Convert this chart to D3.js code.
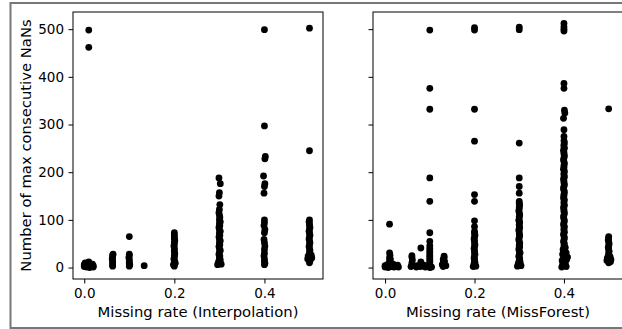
<!DOCTYPE html>
<html>
<head>
<meta charset="utf-8">
<script src="https://cdn.jsdelivr.net/npm/d3@7"></script>
<style>
  html, body { margin: 0; padding: 0; background: #fff; }
  svg { display: block; font-family: 'DejaVu Sans', sans-serif; }
  .tick text { font-family: 'DejaVu Sans', sans-serif; font-size: 13.5px; fill: #000; }
  .tick line { stroke: #000; }
  .label { font-family: 'DejaVu Sans', sans-serif; font-size: 14.8px; fill: #000; }
</style>
</head>
<body>
<svg id="chart" width="622" height="329"></svg>
<script>
// [missing rate, max consecutive NaNs]
const interpolationPoints = [
  [0, 2], [0, 6], [0.002, 10], [0.005, 1], [0.005, 4], [0.008, 8], [0.01, 3], [0.01, 12], [0.012, 0],
  [0.015, 5], [0.015, 2], [0.018, 7], [0.02, 1], [0.02, 4], [0.01, 462], [0.01, 498],
  [0.063, 3], [0.063, 6], [0.063, 10], [0.063, 14], [0.062, 18], [0.063, 22], [0.063, 26], [0.064, 28],
  [0.1, 3], [0.101, 6], [0.1, 9], [0.1, 13], [0.1, 17], [0.099, 21], [0.1, 25], [0.1, 28], [0.1, 65],
  [0.133, 4],
  [0.2, 3], [0.198, 6], [0.202, 9], [0.201, 12], [0.2, 15], [0.199, 18], [0.2, 22], [0.2, 25], [0.201, 29],
  [0.2, 33], [0.2, 37], [0.2, 41], [0.199, 45], [0.2, 49], [0.2, 53], [0.201, 57], [0.2, 61], [0.2, 65],
  [0.2, 69], [0.2, 73],
  [0.296, 6], [0.304, 7], [0.3, 9], [0.298, 12], [0.302, 16], [0.3, 20], [0.301, 24], [0.299, 28], [0.3, 32],
  [0.302, 36], [0.3, 40], [0.299, 44], [0.301, 48], [0.3, 52], [0.302, 56], [0.3, 60], [0.299, 64],
  [0.301, 68], [0.3, 72], [0.302, 76], [0.3, 80], [0.299, 84], [0.301, 88], [0.3, 92], [0.302, 96],
  [0.3, 100], [0.301, 105], [0.3, 110], [0.299, 115], [0.3, 122], [0.301, 132], [0.299, 150], [0.3, 157],
  [0.302, 176], [0.299, 188],
  [0.4, 499], [0.4, 297], [0.402, 233], [0.401, 228], [0.398, 192], [0.401, 176], [0.4, 170], [0.399, 156],
  [0.4, 100], [0.4, 94], [0.399, 88], [0.401, 80], [0.4, 73], [0.399, 59], [0.4, 52], [0.401, 45],
  [0.4, 38], [0.4, 30], [0.399, 24], [0.4, 18], [0.4, 13], [0.401, 9], [0.4, 6],
  [0.5, 502], [0.5, 245],
  [0.5, 10], [0.501, 14], [0.496, 18], [0.505, 20], [0.497, 24], [0.504, 26], [0.5, 28], [0.5, 32],
  [0.501, 36], [0.5, 40], [0.499, 44], [0.5, 48], [0.501, 52], [0.5, 56], [0.499, 60], [0.5, 64],
  [0.501, 68], [0.5, 72], [0.499, 76], [0.5, 80], [0.501, 84], [0.5, 88], [0.5, 92], [0.499, 96], [0.5, 100]
];

const missForestPoints = [
  [0, 1], [0, 4], [0.003, 2], [0.005, 6], [0.007, 0], [0.01, 3], [0.01, 9], [0.01, 14], [0.01, 20],
  [0.011, 26], [0.01, 31], [0.012, 17], [0.013, 5], [0.015, 2], [0.018, 7], [0.02, 1], [0.022, 4],
  [0.025, 2], [0.028, 5], [0.03, 1], [0.01, 91],
  [0.058, 2], [0.06, 5], [0.06, 10], [0.061, 16], [0.06, 22], [0.06, 25],
  [0.07, 1], [0.072, 4], [0.078, 2], [0.08, 6], [0.08, 12], [0.08, 41], [0.083, 3], [0.087, 5], [0.09, 1],
  [0.096, 2], [0.104, 1], [0.1, 0], [0.1, 3], [0.1, 7], [0.1, 11], [0.1, 15], [0.1, 19], [0.1, 23],
  [0.1, 27], [0.1, 31], [0.1, 35], [0.1, 40], [0.1, 46], [0.1, 55], [0.1, 73], [0.1, 139], [0.1, 188],
  [0.1, 332], [0.1, 376], [0.1, 498],
  [0.13, 2], [0.132, 5], [0.13, 9], [0.133, 13], [0.13, 17], [0.132, 21], [0.132, 24], [0.128, 6], [0.136, 4],
  [0.2, 498], [0.2, 503], [0.2, 332], [0.2, 265], [0.2, 153], [0.2, 139], [0.2, 98], [0.2, 86],
  [0.197, 2], [0.203, 3], [0.2, 5], [0.199, 8], [0.201, 11], [0.2, 14], [0.2, 17], [0.199, 20], [0.2, 24],
  [0.201, 28], [0.2, 32], [0.2, 36], [0.199, 40], [0.2, 44], [0.201, 48], [0.2, 52], [0.2, 56],
  [0.199, 60], [0.2, 64], [0.201, 68], [0.2, 72], [0.2, 76],
  [0.3, 499], [0.3, 504], [0.3, 261], [0.3, 188], [0.3, 170], [0.3, 156],
  [0.296, 3], [0.304, 4], [0.3, 6], [0.298, 9], [0.302, 12], [0.3, 15], [0.301, 19], [0.299, 23],
  [0.3, 27], [0.302, 31], [0.3, 35], [0.299, 39], [0.301, 43], [0.3, 47], [0.301, 51], [0.3, 55],
  [0.299, 59], [0.3, 63], [0.301, 67], [0.3, 71], [0.3, 75], [0.299, 79], [0.301, 83], [0.3, 87],
  [0.3, 91], [0.301, 95], [0.299, 99], [0.3, 103], [0.3, 107], [0.301, 111], [0.3, 115], [0.299, 119],
  [0.3, 123], [0.3, 127], [0.301, 131], [0.3, 135], [0.3, 139],
  [0.4, 496], [0.4, 500], [0.4, 505], [0.4, 512], [0.4, 386], [0.4, 376], [0.401, 330], [0.402, 324],
  [0.399, 313], [0.4, 289], [0.4, 275],
  [0.395, 1], [0.405, 2], [0.4, 4], [0.397, 7], [0.403, 9], [0.4, 12], [0.396, 15], [0.406, 17],
  [0.399, 20], [0.408, 22], [0.402, 25], [0.397, 28], [0.405, 31], [0.4, 34], [0.398, 38], [0.403, 42],
  [0.4, 46], [0.401, 50], [0.399, 54], [0.4, 58], [0.401, 62], [0.4, 66], [0.399, 70], [0.401, 74],
  [0.4, 78], [0.4, 82], [0.401, 86], [0.399, 90], [0.4, 94], [0.401, 98], [0.4, 102], [0.399, 106],
  [0.4, 110], [0.401, 114], [0.4, 118], [0.4, 122], [0.399, 126], [0.401, 130], [0.4, 134], [0.4, 138],
  [0.401, 142], [0.399, 146], [0.4, 150], [0.4, 154], [0.401, 158], [0.4, 162], [0.399, 166], [0.4, 170],
  [0.401, 174], [0.4, 178], [0.4, 182], [0.399, 186], [0.401, 190], [0.4, 194], [0.4, 198], [0.401, 202],
  [0.399, 206], [0.4, 210], [0.4, 214], [0.401, 218], [0.4, 222], [0.399, 226], [0.4, 230], [0.401, 234],
  [0.4, 238], [0.4, 242], [0.399, 246], [0.401, 250], [0.4, 254], [0.4, 258], [0.401, 262], [0.4, 266],
  [0.5, 333],
  [0.5, 10], [0.504, 12], [0.496, 15], [0.505, 17], [0.497, 20], [0.503, 23], [0.5, 26], [0.5, 30],
  [0.501, 34], [0.5, 38], [0.499, 42], [0.5, 46], [0.501, 50], [0.5, 54], [0.499, 58], [0.5, 62], [0.5, 65]
];

const xTicks = [0, 0.2, 0.4];
const yTicks = [0, 100, 200, 300, 400, 500];
const xLabels = ['Missing rate (Interpolation)', 'Missing rate (MissForest)'];
const yLabel = 'Number of max consecutive NaNs';

const svg = d3.select('#chart');

svg.append('rect')
  .attr('x', 10.5).attr('y', 3).attr('width', 720).attr('height', 325)
  .attr('fill', '#fff').attr('stroke', '#777').attr('stroke-width', 2);

const y = d3.scaleLinear().domain([-24, 536]).range([279, 12]);

const panels = [
  { data: interpolationPoints, left: 73, domain: [-0.025, 0.53], label: xLabels[0], yText: true },
  { data: missForestPoints, left: 373, domain: [-0.027, 0.532], label: xLabels[1], yText: false },
];

panels.forEach((p) => {
  const x = d3.scaleLinear().domain(p.domain).range([p.left, p.left + 250]);

  const grp = svg.append('g');

  grp.append('g')
    .attr('transform', 'translate(0,279)')
    .call(d3.axisBottom(x).tickValues(xTicks).tickFormat(d3.format('.1f')).tickSize(4.5).tickPadding(5))
    .call((g) => g.select('.domain').remove());

  grp.append('g')
    .attr('transform', 'translate(' + p.left + ',0)')
    .call(d3.axisLeft(y).tickValues(yTicks).tickSize(4.5).tickPadding(4.5)
      .tickFormat(p.yText ? d3.format('d') : () => ''))
    .call((g) => g.select('.domain').remove());

  grp.selectAll('.dot')
    .data(p.data)
    .enter()
    .append('circle')
    .attr('class', 'dot')
    .attr('cx', (d) => x(d[0]))
    .attr('cy', (d) => y(d[1]))
    .attr('r', 3.4)
    .attr('fill', '#000');

  grp.append('rect')
    .attr('x', p.left).attr('y', 12).attr('width', 250).attr('height', 267)
    .attr('fill', 'none').attr('stroke', '#000').attr('stroke-width', 1);

  grp.append('text')
    .attr('class', 'label')
    .attr('x', p.left + 125)
    .attr('y', 317)
    .attr('text-anchor', 'middle')
    .text(p.label);
});

svg.append('text')
  .attr('class', 'label')
  .attr('transform', 'translate(31,145.5) rotate(-90)')
  .attr('text-anchor', 'middle')
  .text(yLabel);
</script>
</body>
</html>
